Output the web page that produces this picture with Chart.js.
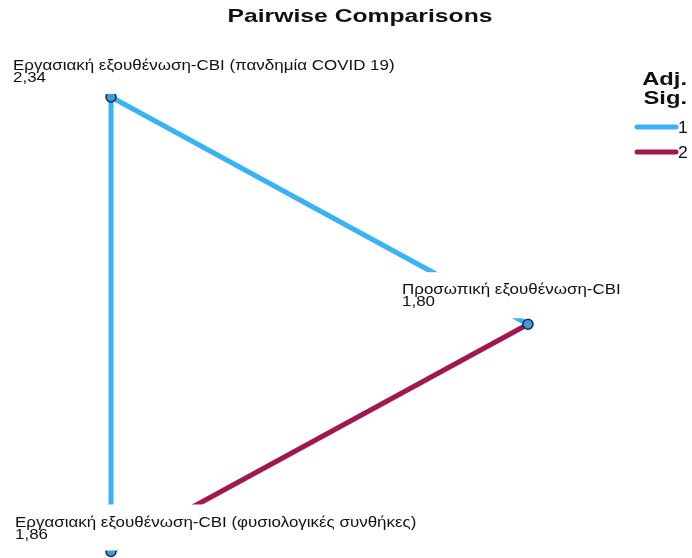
<!DOCTYPE html>
<html>
<head>
<meta charset="utf-8">
<title>Pairwise Comparisons</title>
<script src="https://cdn.jsdelivr.net/npm/chart.js@4.4.1/dist/chart.umd.min.js"></script>
<style>
  html, body { margin: 0; padding: 0; background: #fff; }
  #chart { display: block; }
</style>
</head>
<body>
<canvas id="chart" width="692" height="558"></canvas>
<script>
// nodes: variable name, mean rank, position in the network layout
const nodeNames = [
  'Εργασιακή εξουθένωση-CBI (πανδημία COVID 19)',
  'Προσωπική εξουθένωση-CBI',
  'Εργασιακή εξουθένωση-CBI (φυσιολογικές συνθήκες)'
]
const nodeRanks = [2.34, 1.80, 1.86]
const nodeX = [0, 1, 0]
const nodeY = [1, 0.5, 0]

// edges between nodes, grouped by adjusted significance
const edgeFrom = [0, 0, 1]
const edgeTo = [2, 1, 2]
const edgeSig = [1, 1, 2]
const sigLevels = [1, 2]

const sigColors = { 1: '#3ab2f6', 2: '#a1174f' }
const labelFont = '15px "Liberation Sans", Arial, sans-serif'
const labelStretch = 1.13

// label anchor relative to its node (left edge, baseline of the value line)
const labelOffset = [
  { dx: -98, dy: -15 },
  { dx: -126, dy: -18 },
  { dx: -96, dy: -13 }
]

const fmt = (v) => v.toFixed(2).replace('.', ',')

const textWide = (ctx, text, x, y, align, sx) => {
  ctx.save()
  ctx.translate(x, y)
  ctx.scale(sx, 1)
  ctx.textAlign = align
  ctx.fillText(text, 0, 0)
  ctx.restore()
}

const edgeSets = edgeFrom.map((from, i) => ({
  type: 'line',
  data: [
    { x: nodeX[from], y: nodeY[from] },
    { x: nodeX[edgeTo[i]], y: nodeY[edgeTo[i]] }
  ],
  borderColor: sigColors[edgeSig[i]],
  borderWidth: 5,
  pointRadius: 0,
  borderCapStyle: 'butt',
  clip: false,
  order: 1
}))

const nodeSet = {
  type: 'scatter',
  data: nodeX.map((x, i) => ({ x, y: nodeY[i] })),
  backgroundColor: '#3a9be0',
  borderColor: '#1e2c40',
  borderWidth: 1.5,
  pointRadius: 5,
  clip: false,
  order: 0
}

const networkText = {
  id: 'networkText',
  afterDatasetsDraw (chart) {
    const { ctx, scales } = chart
    ctx.save()
    ctx.font = labelFont
    ctx.textBaseline = 'alphabetic'
    nodeNames.forEach((name, i) => {
      const px = scales.x.getPixelForValue(nodeX[i])
      const py = scales.y.getPixelForValue(nodeY[i])
      const left = px + labelOffset[i].dx
      const base2 = py + labelOffset[i].dy
      const base1 = base2 - 12
      const w = ctx.measureText(name).width * labelStretch
      // white box behind the label hides the edges passing under it
      ctx.fillStyle = '#fff'
      ctx.fillRect(left - 2, base1 - 22, w + 4, base2 - base1 + 34)
      ctx.fillStyle = '#111'
      textWide(ctx, name, left, base1, 'left', labelStretch)
      textWide(ctx, fmt(nodeRanks[i]), left, base2, 'left', labelStretch)
    })
    ctx.restore()
  },
  afterDraw (chart) {
    const { ctx } = chart
    ctx.save()
    ctx.fillStyle = '#111'
    ctx.font = 'bold 19px "Liberation Sans", Arial, sans-serif'
    textWide(ctx, 'Pairwise Comparisons', 360, 22, 'center', 1.3)

    // significance legend
    textWide(ctx, 'Adj.', 687, 85, 'right', 1.25)
    textWide(ctx, 'Sig.', 687, 104, 'right', 1.25)
    ctx.font = '16px "Liberation Sans", Arial, sans-serif'
    sigLevels.forEach((s, i) => {
      const y = 127 + i * 25
      ctx.strokeStyle = sigColors[s]
      ctx.lineWidth = 5
      ctx.lineCap = 'round'
      ctx.beginPath()
      ctx.moveTo(637, y)
      ctx.lineTo(676, y)
      ctx.stroke()
      textWide(ctx, String(s), 678, y + 6, 'left', 1.1)
    })
    ctx.restore()
  }
}

new Chart(document.getElementById('chart'), {
  data: { datasets: [nodeSet, ...edgeSets] },
  options: {
    responsive: false,
    animation: false,
    devicePixelRatio: 1,
    layout: { padding: { left: 111, right: 164, top: 97, bottom: 3 } },
    scales: {
      x: { type: 'linear', min: 0, max: 1, display: false },
      y: { type: 'linear', min: 0, max: 1, display: false }
    },
    plugins: {
      legend: { display: false },
      title: { display: false },
      tooltip: { enabled: false }
    }
  },
  plugins: [networkText]
})
</script>
</body>
</html>
